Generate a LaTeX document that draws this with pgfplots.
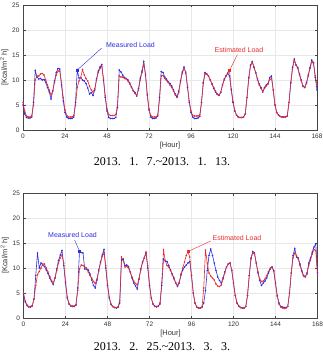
\documentclass[border=0pt]{standalone}
\usepackage{fontspec}
\setmainfont{Liberation Serif}
\newfontfamily\axisfont{Liberation Sans}
\usepackage{pgfplots}
\pgfplotsset{compat=1.18}
\usepackage{pgfplotstable}

\definecolor{measblue}{RGB}{45,45,225}
\definecolor{estred}{RGB}{232,45,45}

% hour, measured load, estimated load  (2013-01-07 .. 2013-01-13)
\pgfplotstableread{
h m e
0 5.0 5.5
1 3.2 3.8
2 2.5 2.8
3 2.4 2.6
4 2.4 2.6
5 2.6 2.8
6 5.5 5.0
7 11.9 10.0
8 10.6 10.8
9 10.2 10.8
10 10.3 11.2
11 10.0 11.3
12 10.1 11.0
13 9.5 10.0
14 8.5 9.0
15 7.6 8.0
16 6.2 7.0
17 7.8 7.8
18 9.8 9.5
19 11.5 11.0
20 12.3 11.8
21 12.2 11.8
22 9.0 9.5
23 5.8 6.5
24 3.5 4.0
25 2.6 2.9
26 2.3 2.6
27 2.3 2.6
28 2.3 2.6
29 2.6 2.9
30 5.5 5.0
31 12.0 8.5
32 10.4 9.8
33 10.5 10.5
34 10.0 12.1
35 9.8 11.0
36 9.3 10.3
37 8.4 9.8
38 7.2 8.8
39 7.5 8.0
40 6.9 7.6
41 8.0 8.2
42 10.2 10.0
43 11.8 11.5
44 12.6 12.3
45 13.1 12.8
46 10.0 10.2
47 6.5 6.8
48 3.8 4.2
49 2.5 3.1
50 2.3 2.9
51 2.3 2.9
52 2.3 2.9
53 2.5 3.1
54 4.5 5.0
55 12.0 10.8
56 11.6 10.6
57 11.0 10.6
58 10.5 10.3
59 10.3 10.2
60 10.0 9.8
61 9.4 9.2
62 8.6 8.5
63 7.9 7.8
64 7.5 7.3
65 6.8 7.0
66 8.3 8.0
67 10.4 10.0
68 11.8 11.5
69 13.7 13.2
70 11.0 11.2
71 7.0 7.2
72 4.0 4.2
73 2.6 2.9
74 2.3 2.6
75 2.3 2.6
76 2.4 2.6
77 2.8 3.0
78 6.5 6.0
79 11.7 10.8
80 11.5 10.9
81 10.6 10.3
82 10.2 9.9
83 9.6 9.5
84 9.3 9.0
85 8.8 8.5
86 8.0 7.8
87 7.2 7.0
88 6.7 6.5
89 7.8 7.5
90 9.8 9.6
91 11.6 11.3
92 12.6 12.3
93 11.4 11.6
94 8.5 8.8
95 5.5 5.8
96 3.5 3.8
97 2.6 2.9
98 2.3 2.8
99 2.3 2.8
100 2.4 2.8
101 2.7 3.0
102 5.5 5.5
103 9.5 9.3
104 11.5 11.2
105 11.2 11.2
106 10.8 10.8
107 10.0 10.0
108 9.2 9.3
109 8.3 8.5
110 7.6 7.8
111 7.1 7.2
112 6.9 7.0
113 7.5 7.6
114 9.0 9.0
115 10.2 10.0
116 10.8 10.8
117 11.3 11.5
118 10.8 11.9
119 8.0 8.2
120 5.5 5.7
121 3.8 3.9
122 3.0 3.0
123 2.6 2.6
124 2.5 2.5
125 2.5 2.5
126 2.6 2.6
127 3.2 3.2
128 6.5 6.5
129 10.5 10.3
130 13.0 12.8
131 13.7 13.5
132 12.5 12.6
133 11.5 11.4
134 10.2 10.0
135 9.2 9.0
136 8.5 8.3
137 7.6 7.8
138 8.5 8.3
139 9.0 8.8
140 9.3 9.2
141 10.5 10.1
142 10.8 10.3
143 8.0 8.0
144 5.0 5.0
145 3.5 3.5
146 3.0 3.0
147 2.7 2.7
148 2.6 2.6
149 2.6 2.6
150 2.6 2.6
151 2.8 2.8
152 5.5 5.5
153 9.5 9.3
154 12.5 12.2
155 14.2 13.9
156 13.0 13.0
157 12.5 12.3
158 11.2 11.0
159 10.0 9.8
160 8.8 8.7
161 8.5 8.5
162 9.5 9.3
163 11.0 10.8
164 12.5 12.3
165 14.0 13.6
166 13.5 13.3
167 10.5 10.8
168 8.0 9.0
}\weekjan

% hour, measured load, estimated load  (2013-02-25 .. 2013-03-03)
\pgfplotstableread{
h m e
0 4.8 5.0
1 3.2 3.4
2 2.5 2.6
3 2.2 2.3
4 2.2 2.3
5 2.4 2.5
6 3.8 3.8
7 8.5 6.5
8 13.0 8.7
9 10.0 9.3
10 11.0 10.0
11 10.6 10.8
12 10.3 10.8
13 9.6 10.0
14 8.9 9.2
15 8.0 8.3
16 7.3 7.5
17 6.7 7.0
18 8.0 8.0
19 9.8 9.5
20 11.5 11.0
21 12.6 12.0
22 13.5 12.6
23 10.5 11.0
24 7.0 7.3
25 4.0 4.2
26 2.8 2.9
27 2.4 2.5
28 2.3 2.4
29 2.3 2.4
30 2.6 2.7
31 6.0 5.5
32 13.4 9.8
33 13.1 10.6
34 13.0 10.5
35 9.8 10.2
36 9.8 10.0
37 9.6 9.2
38 8.8 8.5
39 7.6 8.0
40 6.5 7.3
41 6.0 6.9
42 7.6 7.8
43 9.6 9.4
44 11.2 11.0
45 12.6 12.3
46 13.7 13.0
47 10.0 10.5
48 6.5 6.8
49 4.0 4.2
50 2.7 2.8
51 2.3 2.3
52 2.1 2.1
53 2.0 2.1
54 2.1 2.2
55 3.0 3.5
56 11.6 12.2
57 11.8 11.5
58 10.5 10.2
59 10.6 10.3
60 10.3 10.0
61 9.2 9.2
62 8.0 8.2
63 7.0 7.4
64 6.4 6.9
65 5.8 6.6
66 7.8 7.8
67 9.8 9.6
68 11.2 11.0
69 12.0 12.0
70 13.0 13.2
71 10.0 10.5
72 6.5 6.8
73 4.0 4.0
74 2.8 2.8
75 2.4 2.3
76 2.3 2.2
77 2.4 2.3
78 2.8 3.0
79 6.5 7.0
80 11.8 13.6
81 11.4 11.5
82 11.3 10.5
83 10.5 10.2
84 9.6 9.5
85 8.8 8.6
86 8.0 7.8
87 7.0 7.0
88 6.3 6.5
89 7.0 7.2
90 8.6 8.8
91 9.6 10.0
92 10.2 11.2
93 10.6 12.5
94 11.0 13.3
95 11.3 12.2
96 8.5 8.5
97 5.0 5.0
98 3.0 3.0
99 2.2 2.2
100 2.0 2.0
101 2.0 2.0
102 2.2 2.1
103 3.0 6.0
104 5.5 13.6
105 9.5 11.0
106 12.5 9.0
107 13.8 8.4
108 12.5 8.0
109 11.0 7.6
110 9.5 6.8
111 8.2 6.4
112 7.5 6.3
113 7.0 6.6
114 8.0 7.8
115 9.2 9.0
116 10.2 10.2
117 10.8 10.8
118 11.0 11.0
119 9.5 9.6
120 7.0 7.0
121 4.5 4.5
122 3.0 3.0
123 2.4 2.4
124 2.1 2.1
125 2.0 2.0
126 2.0 2.0
127 2.3 2.3
128 4.5 4.5
129 8.5 8.5
130 12.0 11.8
131 13.3 13.0
132 13.0 12.8
133 11.0 11.0
134 9.0 9.2
135 7.5 7.8
136 6.5 7.3
137 7.0 7.4
138 7.4 7.8
139 8.0 8.5
140 9.0 9.3
141 9.8 10.0
142 10.2 10.2
143 9.5 9.3
144 7.0 6.8
145 4.5 4.3
146 3.0 2.8
147 2.3 2.2
148 2.2 2.0
149 2.1 1.9
150 2.1 2.0
151 2.3 2.3
152 5.0 5.0
153 9.0 9.0
154 12.5 12.0
155 13.9 13.0
156 12.2 12.5
157 12.0 11.8
158 10.8 10.5
159 9.5 9.3
160 8.5 8.4
161 8.3 8.2
162 9.0 8.8
163 11.0 10.5
164 12.0 11.6
165 13.2 12.8
166 14.2 13.7
167 14.8 13.5
168 9.0 8.5
}\weekfeb

\pgfplotsset{
  loadaxis/.style={
    scale only axis, width=294pt, height=125pt,
    xmin=0, xmax=168, ymin=0, ymax=25,
    xtick={0,24,...,168}, ytick={0,5,...,25},
    tick align=inside, major tick length=2.5pt,
    grid=major, grid style={gray!18, line width=0.3pt},
    axis line style={gray!55!black, line width=0.4pt},
    tick style={gray!55!black, line width=0.4pt},
    tick label style={font=\axisfont\fontsize{6.5}{7}\selectfont, text=black!80},
    label style={font=\axisfont\fontsize{7.5}{8}\selectfont, text=black!80},
    /pgf/number format/assume math mode=true,
    xlabel={[Hour]}, ylabel={[Kcal/m\textsuperscript{2} h]},
    xlabel style={yshift=3pt}, ylabel style={yshift=-3pt},
  },
  meas/.style={measblue, line width=0.6pt, mark=*, mark size=0.45pt},
  est/.style={estred, line width=0.6pt, mark=*, mark size=0.45pt},
}
\tikzset{annot/.style={font=\axisfont\fontsize{7}{8}\selectfont}}

\begin{document}
\begin{tikzpicture}
% first week
\begin{axis}[loadaxis, at={(0pt,0pt)}, anchor=south west]
  \addplot[meas] table[x=h, y=m] {\weekjan};
  \addplot[est] table[x=h, y=e] {\weekjan};
  \addplot[measblue, only marks, mark=square*, mark size=1pt] coordinates {(31,12.0)};
  \addplot[estred, only marks, mark=square*, mark size=1pt] coordinates {(118,11.9)};
  \draw[measblue, line width=0.4pt] (axis cs:45,16.4) -- (axis cs:31,12.0);
  \node[measblue, annot, anchor=west] at (axis cs:45.5,17.1) {Measured Load};
  \draw[estred, line width=0.4pt] (axis cs:122.5,15.1) -- (axis cs:118,11.9);
  \node[estred, annot] at (axis cs:123.4,16.0) {Estimated Load};
\end{axis}
\node[font=\fontsize{12}{14}\selectfont] at (139pt,-31.5pt)
  {2013.\hspace{0.7em}1.\hspace{0.7em}7.\textasciitilde2013.\hspace{0.7em}1.\hspace{0.7em}13.};

% second week
\begin{axis}[loadaxis, at={(0.5pt,-188pt)}, anchor=south west]
  \addplot[meas] table[x=h, y=m] {\weekfeb};
  \addplot[est] table[x=h, y=e] {\weekfeb};
  \addplot[measblue, only marks, mark=square*, mark size=1pt] coordinates {(32,13.4)};
  \addplot[estred, only marks, mark=square*, mark size=1pt] coordinates {(94,13.3)};
  \draw[measblue, line width=0.4pt] (axis cs:29.2,15.6) -- (axis cs:32,13.4);
  \node[measblue, annot] at (axis cs:28,16.7) {Measured Load};
  \draw[estred, line width=0.4pt] (axis cs:107,15.4) -- (axis cs:94,13.3);
  \node[estred, annot] at (axis cs:122,16.0) {Estimated Load};
\end{axis}
\node[font=\fontsize{12}{14}\selectfont] at (139pt,-216.5pt)
  {2013.\hspace{0.7em}2.\hspace{0.7em}25.\textasciitilde2013.\hspace{0.7em}3.\hspace{0.7em}3.};

\pgfresetboundingbox
\path (-23pt,-226pt) rectangle (300pt,130pt);
\end{tikzpicture}
\end{document}
